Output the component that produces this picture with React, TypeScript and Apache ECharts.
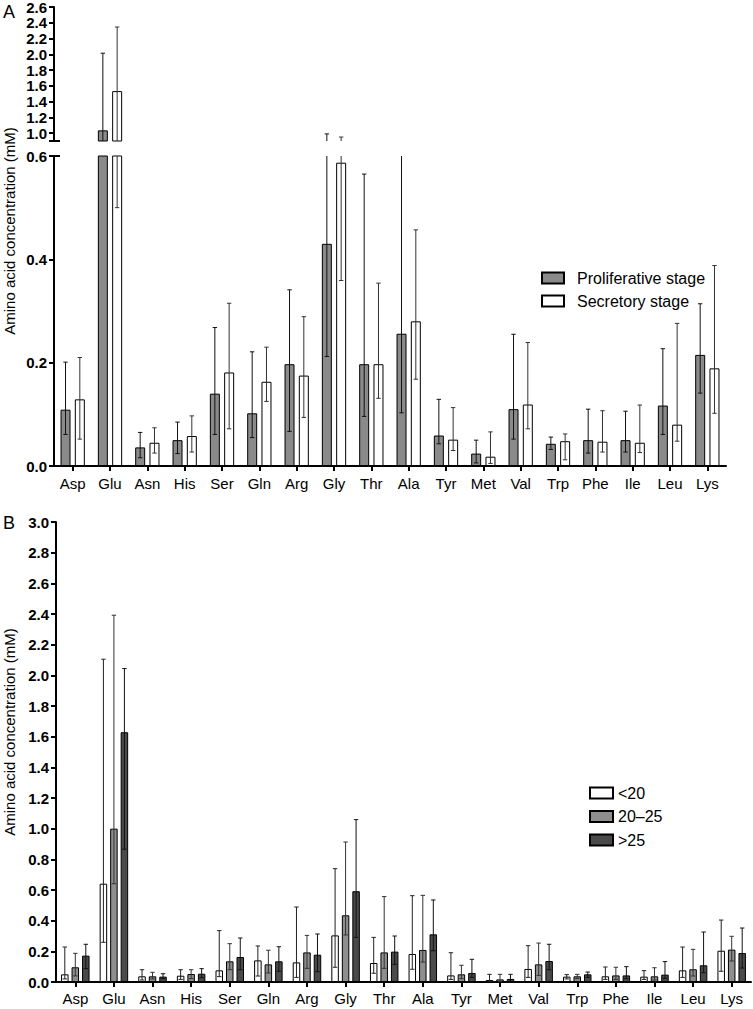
import React, { useEffect, useRef } from "react";
import * as echarts from "echarts";

const categories = ["Asp","Glu","Asn","His","Ser","Gln","Arg","Gly","Thr","Ala","Tyr","Met","Val","Trp","Phe","Ile","Leu","Lys"];

// Panel A
const prolifMean = [0.109, 1.035, 0.036, 0.050, 0.140, 0.102, 0.197, 0.430, 0.197, 0.256, 0.059, 0.024, 0.110, 0.043, 0.050, 0.050, 0.117, 0.215];
const prolifLow  = [0.061, 0.75, 0.016, 0.024, 0.061, 0.055, 0.067, 0.212, 0.096, 0.103, 0.043, 0.006, 0.052, 0.032, 0.025, 0.027, 0.061, 0.141];
const prolifHigh = [0.201, 2.014, 0.065, 0.085, 0.268, 0.221, 0.341, 0.99, 0.565, 0.75, 0.129, 0.050, 0.255, 0.056, 0.110, 0.106, 0.227, 0.314];
const secrMean = [0.129, 1.533, 0.045, 0.058, 0.181, 0.163, 0.175, 0.587, 0.197, 0.280, 0.051, 0.018, 0.119, 0.048, 0.047, 0.045, 0.080, 0.189];
const secrLow  = [0.052, 0.5, 0.025, 0.027, 0.072, 0.125, 0.094, 0.359, 0.131, 0.168, 0.030, 0.005, 0.072, 0.012, 0.027, 0.026, 0.048, 0.102];
const secrHigh = [0.210, 2.346, 0.074, 0.097, 0.315, 0.230, 0.289, 0.95, 0.354, 0.457, 0.113, 0.066, 0.239, 0.062, 0.107, 0.118, 0.276, 0.388];

// Panel B
const lt20Mean = [0.050, 0.641, 0.037, 0.041, 0.076, 0.141, 0.128, 0.304, 0.124, 0.183, 0.043, 0.013, 0.085, 0.035, 0.037, 0.035, 0.076, 0.204];
const lt20Low  = [0.02, 0.259, 0.013, 0.017, 0.035, 0.039, 0.03, 0.096, 0.057, 0.083, 0.017, 0.004, 0.03, 0.02, 0.017, 0.017, 0.03, 0.070];
const lt20High = [0.228, 2.105, 0.080, 0.080, 0.335, 0.235, 0.489, 0.739, 0.291, 0.563, 0.191, 0.050, 0.237, 0.048, 0.098, 0.074, 0.228, 0.404];
const mid2025Mean = [0.096, 1.000, 0.037, 0.052, 0.135, 0.115, 0.193, 0.435, 0.193, 0.209, 0.050, 0.017, 0.115, 0.037, 0.043, 0.037, 0.083, 0.211];
const mid2025Low  = [0.04, 0.641, 0.02, 0.022, 0.080, 0.059, 0.089, 0.307, 0.089, 0.130, 0.022, 0.004, 0.043, 0.022, 0.017, 0.013, 0.039, 0.137];
const mid2025High = [0.187, 2.392, 0.063, 0.080, 0.25, 0.207, 0.304, 0.913, 0.557, 0.565, 0.109, 0.050, 0.254, 0.05, 0.096, 0.093, 0.213, 0.298];
const gt25Mean = [0.172, 1.629, 0.035, 0.054, 0.163, 0.135, 0.178, 0.592, 0.198, 0.311, 0.059, 0.020, 0.137, 0.050, 0.043, 0.048, 0.109, 0.189];
const gt25Low  = [0.087, 0.866, 0.022, 0.028, 0.080, 0.070, 0.067, 0.291, 0.115, 0.204, 0.030, 0.006, 0.080, 0.03, 0.022, 0.024, 0.061, 0.091];
const gt25High = [0.246, 2.044, 0.054, 0.087, 0.287, 0.230, 0.313, 1.059, 0.300, 0.535, 0.148, 0.050, 0.246, 0.065, 0.1, 0.133, 0.326, 0.352];

const upperTicks = [1.0, 1.2, 1.4, 1.6, 1.8, 2.0, 2.2, 2.4, 2.6];
const UPPER_MIN = 0.9;

const FONT = "'Liberation Sans', Arial, sans-serif";
const A_BAR_W = 10;
const A_GAP = 4.3;
const B_BAR_W = 7.5;
const B_GAP = 3;

function errSeries(lows: number[], highs: number[], offset: number, xi: number, yi: number, color: string) {
  return {
    type: "custom",
    xAxisIndex: xi,
    yAxisIndex: yi,
    clip: true,
    z: 5,
    silent: true,
    data: lows.map((l, i) => [i, l, highs[i]]),
    encode: { x: 0, y: [1, 2] },
    renderItem: (params: any, api: any) => {
      const i = api.value(0);
      const lo = api.coord([i, api.value(1)]);
      const hi = api.coord([i, api.value(2)]);
      const x = lo[0] + offset;
      const cw = 2.2;
      const st = { stroke: color, lineWidth: 1 };
      return {
        type: "group",
        children: [
          { type: "line", shape: { x1: x, y1: lo[1], x2: x, y2: hi[1] }, style: st },
          { type: "line", shape: { x1: x - cw, y1: hi[1], x2: x + cw, y2: hi[1] }, style: st },
          { type: "line", shape: { x1: x - cw, y1: lo[1], x2: x + cw, y2: lo[1] }, style: st },
        ],
      };
    },
  };
}

const axisLineStyle = { show: true, lineStyle: { color: "#000", width: 2 } };
const yLabel = { color: "#000", fontWeight: "bold", fontSize: 15, fontFamily: FONT, margin: 7, formatter: (v: number) => v.toFixed(1) };
const yTick = { show: true, length: 5, lineStyle: { color: "#000", width: 2 } };

export default function App() {
  const ref = useRef<HTMLDivElement>(null);
  useEffect(() => {
    if (!ref.current) return;
    const chart = echarts.init(ref.current, undefined, { renderer: "svg" });
    const upperOnly = (arr: number[]) => arr.map((v) => (v > UPPER_MIN ? v : "-"));
    const grayA = "#8a8a8a";
    const option: any = {
      animation: false,
      backgroundColor: "#fff",
      textStyle: { fontFamily: FONT },
      grid: [
        { left: 54, width: 672, top: 7, height: 134, outerBoundsMode: "none" },
        { left: 54, width: 672, top: 156, height: 310, outerBoundsMode: "none" },
        { left: 56, width: 695, top: 522, height: 460, outerBoundsMode: "none" },
      ],
      xAxis: [
        { type: "category", gridIndex: 0, data: categories, show: false },
        {
          type: "category", gridIndex: 1, data: categories,
          axisLine: axisLineStyle,
          axisTick: { show: true, alignWithLabel: true, length: 5, lineStyle: { color: "#000", width: 2 } },
          axisLabel: { color: "#000", fontSize: 15, fontFamily: FONT, margin: 10, interval: 0 },
        },
        {
          type: "category", gridIndex: 2, data: categories,
          axisLine: axisLineStyle,
          axisTick: { show: true, alignWithLabel: true, length: 5, lineStyle: { color: "#000", width: 2 } },
          axisLabel: { color: "#000", fontSize: 15, fontFamily: FONT, margin: 9, interval: 0 },
        },
      ],
      yAxis: [
        {
          type: "value", gridIndex: 0, min: UPPER_MIN, max: 2.6,
          axisLine: axisLineStyle,
          axisTick: { ...yTick, customValues: upperTicks },
          axisLabel: { ...yLabel, customValues: upperTicks },
          splitLine: { show: false },
        },
        {
          type: "value", gridIndex: 1, min: 0, max: 0.6, interval: 0.2,
          axisLine: axisLineStyle, axisTick: yTick, axisLabel: yLabel, splitLine: { show: false },
        },
        {
          type: "value", gridIndex: 2, min: 0, max: 3.0, interval: 0.2,
          axisLine: axisLineStyle, axisTick: yTick, axisLabel: yLabel, splitLine: { show: false },
        },
      ],
      legend: [
        {
          orient: "vertical", left: 536, top: 265, itemWidth: 22, itemHeight: 11, itemGap: 7,
          icon: "rect",
          data: ["Proliferative stage", "Secretory stage"],
          textStyle: { fontSize: 16, color: "#000", fontFamily: FONT, lineHeight: 16, padding: [0, 0, 0, 8] },
        },
        {
          orient: "vertical", left: 584, top: 780, itemWidth: 23, itemHeight: 11, itemGap: 7.5,
          icon: "rect",
          data: ["<20", "20–25", ">25"],
          textStyle: { fontSize: 16, color: "#000", fontFamily: FONT, lineHeight: 16 },
        },
      ],
      graphic: [
        { type: "text", left: 3, top: 3, style: { text: "A", fontSize: 18, fill: "#000", fontFamily: FONT } },
        { type: "text", left: 3, top: 514, style: { text: "B", fontSize: 18, fill: "#000", fontFamily: FONT } },
        {
          type: "text", x: 9, y: 231, rotation: Math.PI / 2,
          style: { text: "Amino acid concentration (mM)", fontSize: 15, fill: "#000", fontFamily: FONT, align: "center", verticalAlign: "middle" },
        },
        {
          type: "text", x: 9, y: 732, rotation: Math.PI / 2,
          style: { text: "Amino acid concentration (mM)", fontSize: 15, fill: "#000", fontFamily: FONT, align: "center", verticalAlign: "middle" },
        },
        { type: "line", shape: { x1: 49, y1: 141, x2: 60, y2: 141 }, style: { stroke: "#000", lineWidth: 2 } },
        { type: "line", shape: { x1: 49, y1: 156, x2: 60, y2: 156 }, style: { stroke: "#000", lineWidth: 2 } },
      ],
      series: [
        // Panel A upper
        {
          name: "Proliferative stage", type: "bar", xAxisIndex: 0, yAxisIndex: 0,
          barWidth: A_BAR_W, barGap: (A_GAP / A_BAR_W) * 100 + "%",
          itemStyle: { color: grayA, borderColor: "#000", borderWidth: 1 },
          data: upperOnly(prolifMean),
        },
        {
          name: "Secretory stage", type: "bar", xAxisIndex: 0, yAxisIndex: 0,
          barWidth: A_BAR_W, barGap: (A_GAP / A_BAR_W) * 100 + "%",
          itemStyle: { color: "#fff", borderColor: "#000", borderWidth: 1 },
          data: upperOnly(secrMean),
        },
        // Panel A lower
        {
          name: "Proliferative stage", type: "bar", xAxisIndex: 1, yAxisIndex: 1,
          barWidth: A_BAR_W, barGap: (A_GAP / A_BAR_W) * 100 + "%",
          itemStyle: { color: grayA, borderColor: "#000", borderWidth: 1 },
          data: prolifMean,
        },
        {
          name: "Secretory stage", type: "bar", xAxisIndex: 1, yAxisIndex: 1,
          barWidth: A_BAR_W, barGap: (A_GAP / A_BAR_W) * 100 + "%",
          itemStyle: { color: "#fff", borderColor: "#000", borderWidth: 1 },
          data: secrMean,
        },
        errSeries(prolifLow, prolifHigh, -(A_BAR_W + A_GAP) / 2, 0, 0, "#111"),
        errSeries(secrLow, secrHigh, (A_BAR_W + A_GAP) / 2, 0, 0, "#333"),
        errSeries(prolifLow, prolifHigh, -(A_BAR_W + A_GAP) / 2, 1, 1, "#111"),
        errSeries(secrLow, secrHigh, (A_BAR_W + A_GAP) / 2, 1, 1, "#333"),
        // Panel B
        {
          name: "<20", type: "bar", xAxisIndex: 2, yAxisIndex: 2,
          barWidth: B_BAR_W, barGap: (B_GAP / B_BAR_W) * 100 + "%",
          itemStyle: { color: "#fff", borderColor: "#000", borderWidth: 1 },
          data: lt20Mean,
        },
        {
          name: "20–25", type: "bar", xAxisIndex: 2, yAxisIndex: 2,
          barWidth: B_BAR_W, barGap: (B_GAP / B_BAR_W) * 100 + "%",
          itemStyle: { color: "#8e8e8e", borderColor: "#000", borderWidth: 1 },
          data: mid2025Mean,
        },
        {
          name: ">25", type: "bar", xAxisIndex: 2, yAxisIndex: 2,
          barWidth: B_BAR_W, barGap: (B_GAP / B_BAR_W) * 100 + "%",
          itemStyle: { color: "#4a4a4a", borderColor: "#000", borderWidth: 1 },
          data: gt25Mean,
        },
        errSeries(lt20Low, lt20High, -(B_BAR_W + B_GAP), 2, 2, "#222"),
        errSeries(mid2025Low, mid2025High, 0, 2, 2, "#333"),
        errSeries(gt25Low, gt25High, B_BAR_W + B_GAP, 2, 2, "#111"),
      ],
    };
    chart.setOption(option);
    return () => chart.dispose();
  }, []);
  return <div ref={ref} style={{ position: "absolute", left: 0, top: 0, width: 753, height: 1009 }} />;
}
